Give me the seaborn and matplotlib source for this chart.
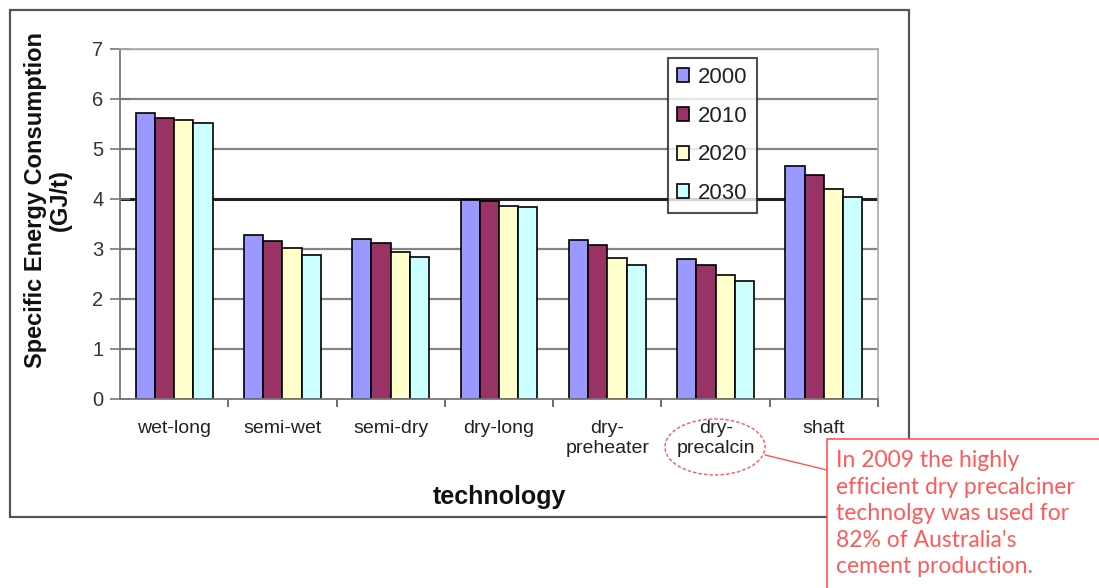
import matplotlib
matplotlib.use("Agg")
import matplotlib.pyplot as plt
from matplotlib.patches import Rectangle, Ellipse
from matplotlib.lines import Line2D
import seaborn as sns
import pandas as pd

categories = ["wet-long", "semi-wet", "semi-dry", "dry-long",
              "dry-\npreheater", "dry-\nprecalcin", "shaft"]
years = ["2000", "2010", "2020", "2030"]
v2000 = [5.73, 3.29, 3.21, 3.98, 3.19, 2.80, 4.67]
v2010 = [5.62, 3.17, 3.12, 3.96, 3.09, 2.69, 4.48]
v2020 = [5.59, 3.02, 2.94, 3.87, 2.83, 2.48, 4.21]
v2030 = [5.52, 2.89, 2.84, 3.85, 2.69, 2.37, 4.05]
colors = ["#9999FF", "#993366", "#FFFFCC", "#CCFFFF"]

rows = []
for y, vals in zip(years, [v2000, v2010, v2020, v2030]):
    for c, v in zip(categories, vals):
        rows.append({"technology": c, "year": y, "value": v})
df = pd.DataFrame(rows)

sns.set_theme(style="white")
plt.rcParams["font.family"] = ["Liberation Sans", "DejaVu Sans"]

W, H = 1099, 588
fig = plt.figure(figsize=(W / 100, H / 100), dpi=100)

def fx(px):
    return px / W

def fy(py):
    return 1 - py / H

# outer chart frame
fig.patches.append(Rectangle((fx(10), fy(517)), fx(909) - fx(10), fy(10) - fy(517),
                             transform=fig.transFigure, fill=False,
                             edgecolor="#555555", linewidth=1.6, zorder=0))

ax = fig.add_axes([fx(120), fy(399), fx(878) - fx(120), fy(49) - fy(399)])
sns.barplot(data=df, x="technology", y="value", hue="year", palette=colors,
            order=categories, hue_order=years, width=0.71, gap=0, saturation=1,
            edgecolor="black", linewidth=1.2, ax=ax, legend=True)

ax.set_ylim(0, 7)
ax.set_xlim(-0.5, len(categories) - 0.5)
ax.set_yticks(range(0, 8))
for yv in range(1, 8):
    ax.axhline(yv, color="#222222" if yv == 4 else "#858585",
               linewidth=2.2 if yv == 4 else 1.6, zorder=0)
ax.set_axisbelow(True)

for s in ["top", "right"]:
    ax.spines[s].set_color("#aaaaaa")
    ax.spines[s].set_linewidth(1.2)
for s in ["left", "bottom"]:
    ax.spines[s].set_color("#777777")
    ax.spines[s].set_linewidth(1.3)

ax.tick_params(axis="y", which="major", direction="inout", length=14, width=1.2,
               color="#777777", labelsize=14.5, labelcolor="#333333", pad=5, left=True)
ax.set_xticks(range(len(categories)))
ax.set_xticklabels(categories, fontsize=14, color="#222222", linespacing=1.25)
ax.tick_params(axis="x", which="major", length=0, pad=15)
ax.set_xticks([i + 0.5 for i in range(len(categories))], minor=True)
ax.tick_params(axis="x", which="minor", direction="out", length=6, width=1.2,
               color="#555555", bottom=True)

ax.set_xlabel("")
ax.set_ylabel("")
fig.text(fx(499), fy(497), "technology", ha="center", va="center",
         fontsize=18, fontweight="bold", color="#111111")
fig.text(fx(48), fy(200), "Specific Energy Consumption\n(GJ/t)", rotation=90,
         ha="center", va="center", fontsize=17, fontweight="bold",
         color="#111111", multialignment="center", linespacing=1.15)

leg = ax.legend(title=None, loc="upper left",
                bbox_to_anchor=(fx(668), fy(58)), bbox_transform=fig.transFigure,
                frameon=True, fancybox=False, shadow=False, fontsize=16,
                handlelength=0.55, handleheight=0.6, handletextpad=0.4,
                labelspacing=0.8, borderpad=0.4, borderaxespad=0)
leg.get_frame().set_edgecolor("#222222")
leg.get_frame().set_linewidth(1.5)
for t in leg.get_texts():
    t.set_color("#222222")

# callout
fig.patches.append(Ellipse((fx(715), fy(447)), fx(100), 56 / H,
                           transform=fig.transFigure, fill=False,
                           edgecolor="#FF5555", linestyle=(0, (2.5, 1.5)),
                           linewidth=1.0, zorder=5))
fig.lines.append(Line2D([fx(765), fx(827)], [fy(455), fy(470)],
                        transform=fig.transFigure, color="#FF5555",
                        linewidth=1.0, zorder=5))
fig.patches.append(Rectangle((fx(827), fy(600)), fx(1110) - fx(827), fy(439) - fy(600),
                             transform=fig.transFigure, facecolor="white",
                             edgecolor="#FF5555", linewidth=1.2, zorder=6))
fig.text(fx(836), fy(450),
         "In 2009 the highly\nefficient dry precalciner\ntechnolgy was used for\n82% of Australia's\ncement production.",
         ha="left", va="top", fontsize=16.5, color="#FF5A5A",
         family=["Lato", "DejaVu Sans"], linespacing=1.33, zorder=7)

fig.savefig("out.png", dpi=100)
